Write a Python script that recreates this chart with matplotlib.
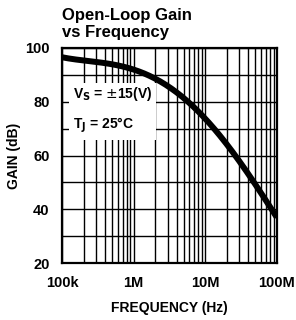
import numpy as np
import matplotlib
matplotlib.use('Agg')
import matplotlib.pyplot as plt
from matplotlib.ticker import FixedLocator, NullFormatter

plt.rcParams['font.family'] = ['Liberation Sans', 'DejaVu Sans']

# open-loop gain
freq_hz = [1e5, 3.4e5, 1e6, 2.7e6, 7.6e6, 1.28e7, 2.7e7, 4.6e7, 7.9e7, 1e8]
gain_db = [96.5, 94.8, 92.1, 85.9, 77.2, 71.0, 59.7, 50.0, 41.0, 37.3]

xticks = [1e5, 1e6, 1e7, 1e8]
xlabels = ['100k', '1M', '10M', '100M']
yticks = [20, 40, 60, 80, 100]

fig = plt.figure(figsize=(2.96, 3.2), dpi=100)
ax = fig.add_axes([0.2095, 0.178, 0.726, 0.672])

# smooth in log-frequency
lf = np.log10(freq_hz)
lfs = np.linspace(lf[0], lf[-1], 200)
coef = np.polyfit(lf, gain_db, 4)
ax.plot(10 ** lfs, np.polyval(coef, lfs), color='black', lw=4.3, solid_capstyle='butt', zorder=3)

ax.set_xscale('log')
ax.set_xlim(1e5, 1e8)
ax.set_ylim(20, 100)

minor = [m * 10 ** d for d in range(5, 8) for m in range(2, 10)]
ax.xaxis.set_minor_locator(FixedLocator(minor))
ax.xaxis.set_minor_formatter(NullFormatter())
ax.set_xticks(xticks)
ax.set_xticklabels(xlabels)
ax.set_yticks(yticks)
ax.yaxis.set_minor_locator(FixedLocator(range(30, 100, 20)))
ax.grid(which='both', color='black', lw=1.0)
ax.set_axisbelow(True)
ax.tick_params(which='both', length=0, labelsize=10.5)
ax.tick_params(axis='x', pad=9)
ax.tick_params(axis='y', pad=9)
for lab in ax.get_xticklabels() + ax.get_yticklabels():
    lab.set_fontweight('bold')
for s in ax.spines.values():
    s.set_linewidth(1.6)

ax.set_xlabel('FREQUENCY (Hz)', fontsize=10, fontweight='bold', labelpad=8)
ax.set_ylabel('GAIN (dB)', fontsize=10, fontweight='bold', labelpad=3)

ax.text(0.0, 1.035, 'Open-Loop Gain\nvs Frequency', transform=ax.transAxes,
        fontsize=12, fontweight='bold', ha='left', va='bottom', linespacing=1.2)

ax.text(0.05, 0.71, r'V$_\mathbf{S}$ = $\pm$15(V)' + '\n\n' + r'T$_\mathbf{J}$ = 25°C',
        transform=ax.transAxes, fontsize=10, fontweight='bold', va='center', ha='left',
        linespacing=0.95,
        bbox=dict(facecolor='white', edgecolor='none', pad=3), zorder=2)

fig.savefig('out.png', dpi=100)
